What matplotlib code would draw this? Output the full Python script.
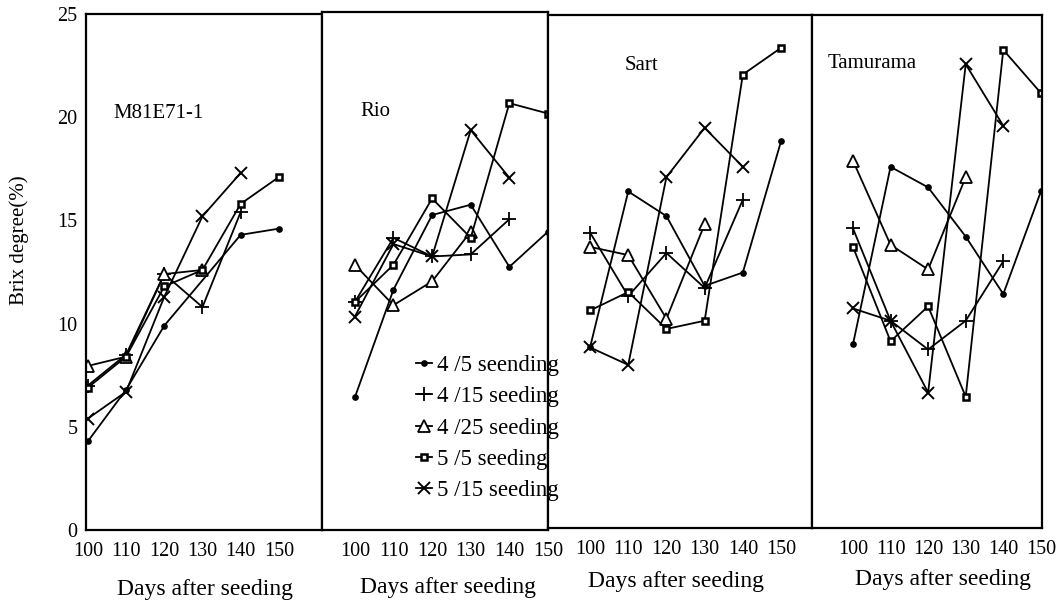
import matplotlib
matplotlib.use("Agg")
import matplotlib.pyplot as plt
from matplotlib.lines import Line2D

# Brix degree (%) by days after seeding, for five seeding dates in four sorghum varieties
days = [100, 110, 120, 130, 140, 150]
sowings = ["4 /5 seending", "4 /15 seeding", "4 /25 seeding", "5 /5 seeding", "5 /15 seeding"]
varieties = ["M81E71-1", "Rio", "Sart", "Tamurama"]

# one row per sowing date (same order as sowings), None = no reading
m81 = [
    [4.3, 6.8, 9.9, None, 14.3, 14.6],
    [7.0, 8.5, 12.4, 10.8, 15.4, None],
    [7.95, 8.4, 12.4, 12.6, None, None],
    [6.9, 8.4, 11.8, 12.6, 15.8, 17.1],
    [5.4, 6.7, 11.3, 15.2, 17.3, None],
]
rio = [
    [6.4, 11.6, 15.2, 15.7, 12.7, 14.4],
    [11.0, 14.1, 13.2, 13.3, 15.0, None],
    [12.8, 10.85, 12.0, 14.4, None, None],
    [11.0, 12.8, 16.0, 14.1, 20.6, 20.1],
    [10.3, 13.8, 13.2, 19.3, 17.0, None],
]
sart = [
    [8.8, 16.4, 15.2, 11.8, 12.45, 18.85],
    [14.4, 11.3, 13.4, 11.7, 16.0, None],
    [13.7, 13.3, 10.2, 14.8, None, None],
    [10.6, 11.5, 9.7, 10.1, 22.1, 23.4],
    [8.8, 7.95, 17.1, 19.5, 17.6, None],
]
tamurama = [
    [8.95, 17.6, 16.6, 14.2, 11.4, 16.4],
    [14.6, 10.1, 8.7, 10.1, 13.0, None],
    [17.9, 13.8, 12.6, 17.1, None, None],
    [13.7, 9.1, 10.8, 6.4, 23.3, 21.2],
    [10.7, 10.1, 6.6, 22.6, 19.6, None],
]
panel_data = [m81, rio, sart, tamurama]

# marker styles per sowing date
styles = [
    dict(marker="o", ms=3.8, mfc="black"),
    dict(marker="+", ms=10, mew=1.3),
    dict(marker="^", ms=8, mfc="white", mew=1.3),
    dict(marker="s", ms=5, mfc="white", mew=1.8),
    dict(marker="x", ms=9, mew=1.4),
]

W, H = 1063, 603
fig = plt.figure(figsize=(W / 100, H / 100), dpi=100)
plt.rcParams["font.family"] = ["Liberation Serif", "DejaVu Serif"]

# panel frames in pixels: left, right, top, bottom, and x-range
frames = [
    (86, 322, 14, 530, (99.5, 161.3)),
    (322, 548, 12, 530, (91.5, 150.0)),
    (548, 812, 15, 528, (89.0, 158.1)),
    (812, 1042, 15, 528, (89.1, 150.3)),
]
label_pos = [(113, 113), (360, 112), (625, 65), (828, 63)]
xlabel_pos = [(205, 590), (448, 588), (676, 582), (943, 580)]

for i, (l, r, t, b, xl) in enumerate(frames):
    ax = fig.add_axes([l / W, 1 - b / H, (r - l) / W, (b - t) / H])
    for j, series in enumerate(panel_data[i]):
        xs = [d for d, v in zip(days, series) if v is not None]
        ys = [v for v in series if v is not None]
        ax.plot(xs, ys, color="black", lw=1.3, mec="black", **styles[j])
    ax.set_xlim(*xl)
    ax.set_ylim(0, 25)
    ax.set_xticks(days)
    ax.tick_params(axis="x", length=0, pad=9, labelsize=14.5)
    if i == 0:
        ax.set_yticks([0, 5, 10, 15, 20, 25])
        ax.tick_params(axis="y", length=0, pad=6, labelsize=14.5)
    else:
        ax.set_yticks([])
    for sp in ax.spines.values():
        sp.set_linewidth(1.6)
    lx, ly = label_pos[i]
    fig.text(lx / W, 1 - ly / H, varieties[i], fontsize=15, va="center", ha="left")
    cx, cy = xlabel_pos[i]
    fig.text(cx / W, 1 - cy / H, "Days after seeding", fontsize=17, va="center", ha="center")

fig.text(19 / W, 1 - 240 / H, "Brix degree(%)", fontsize=15, rotation=90, va="center", ha="center")

handles = [Line2D([], [], color="black", lw=1.3, mec="black", **st) for st in styles]
fig.legend(handles, sowings, loc="upper left", bbox_to_anchor=(416 / W, 1 - 355 / H),
           frameon=False, fontsize=16.5, handlelength=0.7, handletextpad=0.2,
           labelspacing=0.45, borderpad=0, borderaxespad=0)

fig.savefig("out.png", dpi=100)
